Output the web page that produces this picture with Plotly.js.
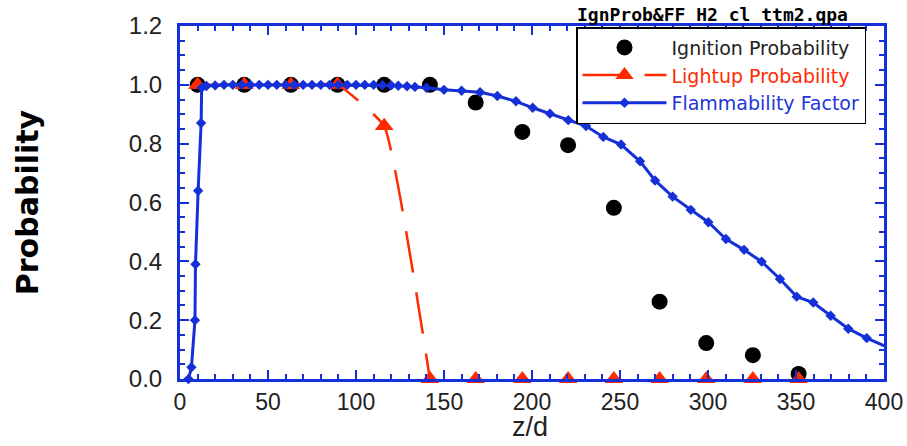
<!DOCTYPE html>
<html>
<head>
<meta charset="utf-8">
<script src="https://cdn.plot.ly/plotly-3.0.1.min.js"></script>
<style>html,body{margin:0;padding:0;background:#fff;}#chart{width:907px;height:446px;}</style>
</head>
<body>
<div id="chart"></div>
<script>
// Station positions (z/d)
const zd = [10, 36.5, 63, 89.5, 116, 142, 168, 194.5, 220.5, 246.5, 272.5, 299, 325.5, 351.5];
// Ignition probability (black circles)
const ignitionProb = [1.0, 1.0, 1.0, 1.0, 1.0, 1.0, 0.94, 0.84, 0.795, 0.582, 0.263, 0.122, 0.081, 0.017];
// Lightup probability (red triangles)
const lightupProb = [1.0, 1.0, 1.0, 1.0, 0.86, 0, 0, 0, 0, 0, 0, 0, 0, 0];
// Flammability factor (blue line)
const ffX = [4.8, 6.5, 8.5, 8.8, 10.3, 12, 12.3, 15, 20, 25, 30, 35, 40, 45, 50, 55, 60, 65, 70, 75, 80, 85, 90, 95, 100, 105, 110, 115, 120, 124, 129, 133.5, 140, 150, 160, 170.5, 180.3, 190.9, 200.4, 210.2, 220.6, 230.7, 240.5, 250.6, 261.4, 269.9, 279.9, 290.2, 300.2, 310.2, 320.5, 330.5, 340.9, 350.4, 359.8, 369.7, 379.7, 390.2, 400.2];
const ffY = [0, 0.04, 0.2, 0.39, 0.64, 0.87, 0.99, 0.996, 0.998, 1.0, 1.0, 1.0, 1.0, 1.0, 1.0, 1.0, 1.0, 1.0, 1.0, 1.0, 1.0, 1.0, 1.0, 1.0, 1.0, 1.0, 1.0, 0.999, 0.998, 0.997, 0.995, 0.993, 0.99, 0.983, 0.98, 0.975, 0.962, 0.944, 0.922, 0.902, 0.88, 0.86, 0.823, 0.797, 0.74, 0.675, 0.62, 0.575, 0.533, 0.476, 0.439, 0.399, 0.34, 0.28, 0.26, 0.215, 0.171, 0.139, 0.113];
// Tick labels
const xTickVals = [0, 50, 100, 150, 200, 250, 300, 350, 400];
const yTickVals = [0, 0.2, 0.4, 0.6, 0.8, 1.0, 1.2];

const BLUE = '#1530d8';
const RED = '#ff2a00';

// line for lightup: drop flat segments along zero after the first zero
const lightupLineY = lightupProb.map((v, i) => (v === 0 && i > 0 && lightupProb[i - 1] === 0) ? null : v);

const traces = [
  {
    x: zd, y: ignitionProb, mode: 'markers', type: 'scatter',
    name: 'Ignition Probability',
    marker: {symbol: 'circle', size: 16, color: '#000'},
    cliponaxis: false
  },
  {
    x: zd, y: lightupLineY, mode: 'lines+markers', type: 'scatter',
    name: '<span style="color:#ff2a00">Lightup Probability</span>',
    line: {color: RED, width: 2.5, dash: '42px,20px', shape: 'spline', smoothing: 0.35},
    marker: {symbol: 'triangle-up', size: 16, color: RED},
    connectgaps: false,
    cliponaxis: false
  },
  {
    x: zd, y: lightupProb, mode: 'markers', type: 'scatter',
    name: 'Lightup markers', showlegend: false,
    marker: {symbol: 'triangle-up', size: 16, color: RED},
    cliponaxis: false
  },
  {
    x: ffX, y: ffY, mode: 'lines+markers', type: 'scatter',
    name: '<span style="color:#2236d8">Flammability Factor</span>',
    line: {color: BLUE, width: 3},
    marker: {symbol: 'diamond', size: 8, color: BLUE},
    cliponaxis: false
  }
];

const layout = {
  width: 907, height: 446,
  margin: {l: 180, r: 23, t: 26, b: 67},
  paper_bgcolor: '#fff', plot_bgcolor: '#fff',
  font: {family: 'Liberation Sans, Arial, sans-serif', color: '#222'},
  showlegend: true,
  title: {
    text: 'IgnProb&FF H2 cl ttm2.qpa',
    font: {family: 'DejaVu Sans Mono, monospace', size: 18, color: '#000', weight: 'bold'},
    x: 577 / 907, xref: 'container', xanchor: 'left',
    y: 1 - 15 / 446, yref: 'container', yanchor: 'middle'
  },
  legend: {
    x: 0.5625, y: 0.997, xanchor: 'left', yanchor: 'top',
    bgcolor: '#fff', bordercolor: '#000', borderwidth: 1.5,
    font: {family: 'DejaVu Sans, sans-serif', size: 19, color: '#222'},
    tracegroupgap: 0, itemwidth: 84
  },
  xaxis: {
    range: [0, 400], showgrid: false, zeroline: false,
    showline: true, linecolor: BLUE, linewidth: 3, mirror: 'ticks',
    ticks: 'inside', ticklen: 9, tickwidth: 2, tickcolor: BLUE,
    tickvals: xTickVals, ticktext: xTickVals.map(String),
    ticklabelstandoff: 0,
    minor: {dtick: 10, ticks: 'inside', ticklen: 5, tickwidth: 2, tickcolor: BLUE, showgrid: false},
    tickfont: {size: 23, color: '#222'}
  },
  yaxis: {
    range: [0, 1.2], showgrid: false, zeroline: false,
    showline: true, linecolor: BLUE, linewidth: 3, mirror: 'ticks',
    ticks: 'inside', ticklen: 9, tickwidth: 2, tickcolor: BLUE,
    tickvals: yTickVals, ticktext: yTickVals.map(v => v.toFixed(1)),
    ticklabelstandoff: 10,
    minor: {dtick: 0.05, ticks: 'inside', ticklen: 5, tickwidth: 2, tickcolor: BLUE, showgrid: false},
    tickfont: {size: 24, color: '#222'},
    title: {text: 'Probability', font: {family: 'DejaVu Sans, sans-serif', size: 30, color: '#000', weight: 'bold'}, standoff: 82}
  },
  annotations: [{
    text: 'z/d', xref: 'paper', yref: 'paper', x: 0.497, y: -0.184,
    xanchor: 'center', yanchor: 'bottom', showarrow: false,
    font: {size: 27, color: '#222'}
  }]
};

Plotly.newPlot('chart', traces, layout, {staticPlot: true, displayModeBar: false});
</script>
</body>
</html>
